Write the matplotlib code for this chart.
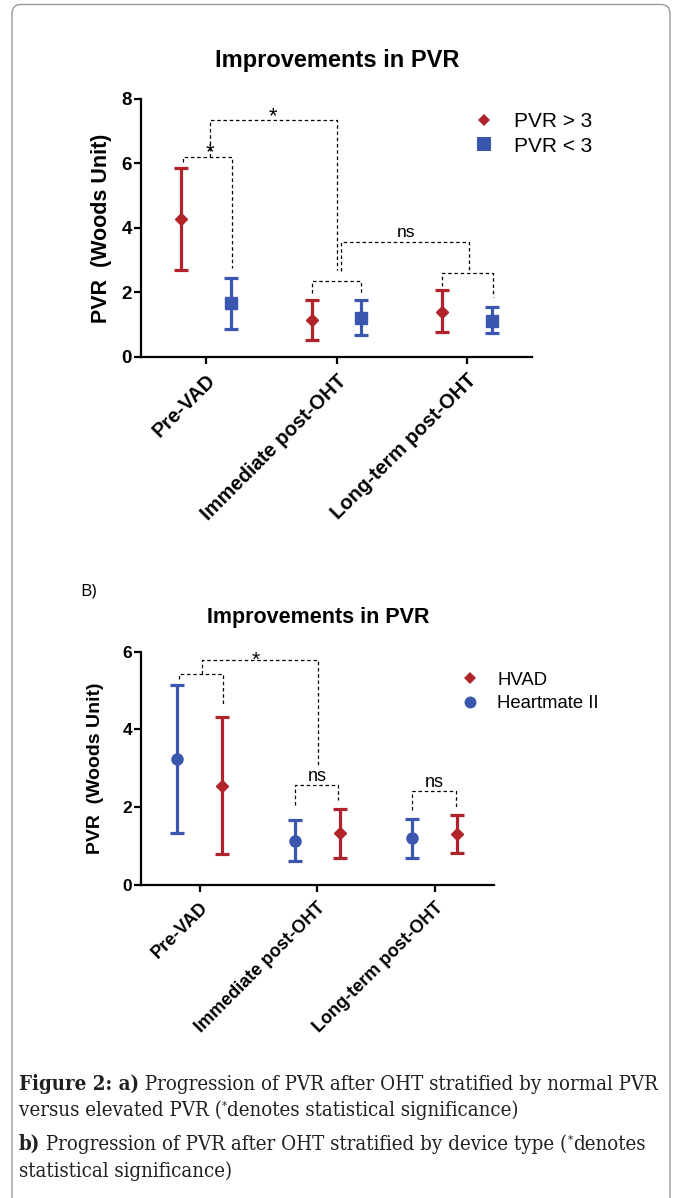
import matplotlib
matplotlib.use("Agg")
import matplotlib.pyplot as plt
import numpy as np
from matplotlib.lines import Line2D
from matplotlib.patches import FancyBboxPatch

plt.rcParams['font.family'] = ['Liberation Sans', 'DejaVu Sans']

categories = ['Pre-VAD', 'Immediate post-OHT', 'Long-term post-OHT']

# panel a: stratified by baseline PVR (mean and error bar ends)
high_mean = [4.28, 1.15, 1.40]
high_upper = [5.86, 1.76, 2.07]
high_lower = [2.71, 0.53, 0.77]
low_mean = [1.66, 1.20, 1.12]
low_upper = [2.45, 1.76, 1.54]
low_lower = [0.88, 0.67, 0.75]

# panel b: stratified by device
hm2_mean = [3.24, 1.13, 1.20]
hm2_upper = [5.14, 1.66, 1.71]
hm2_lower = [1.35, 0.62, 0.70]
hvad_mean = [2.55, 1.33, 1.31]
hvad_upper = [4.32, 1.96, 1.80]
hvad_lower = [0.80, 0.70, 0.83]

# significance brackets: x1, x2, top, left end, right end
brackets_a = [(-0.18, 0.20, 6.20, 6.05, 2.75),
              (0.03, 1.00, 7.35, 6.20, 2.69),
              (0.815, 1.19, 2.35, 1.98, 1.98),
              (1.81, 2.20, 2.62, 2.20, 1.85),
              (1.036, 2.02, 3.58, 2.68, 2.62)]
marks_a = [(0.03, 6.32, '*'), (0.51, 7.45, '*'), (1.53, 3.87, 'ns')]

brackets_b = [(-0.177, 0.196, 5.42, 5.31, 4.60),
              (0.021, 1.005, 5.78, 5.42, 3.04),
              (0.81, 1.18, 2.56, 2.07, 2.19),
              (1.81, 2.185, 2.42, 1.93, 1.97)]
marks_b = [(0.48, 5.77, '*'), (1.0, 2.80, 'ns'), (2.0, 2.63, 'ns')]

RED = '#B0232A'
BLUE = '#3A56AE'
W, H = 675, 1198

fig = plt.figure(figsize=(6.75, 11.98), dpi=100)


def px_axes(left, top, right, bottom):
    return fig.add_axes([left / W, 1 - bottom / H, (right - left) / W, (bottom - top) / H])


def style_axes(ax, ymax, tick_size, xlab_size):
    ax.set_xlim(-0.5, 2.5)
    ax.set_ylim(0, ymax)
    ax.set_yticks(range(0, ymax + 1, 2))
    ax.set_xticks(range(len(categories)))
    ax.set_xticklabels(categories, rotation=45, ha='right', va='top',
                       rotation_mode='anchor', fontsize=xlab_size, fontweight='bold')
    for lab in ax.get_yticklabels():
        lab.set_fontweight('bold')
        lab.set_fontsize(tick_size)
    for s in ['top', 'right']:
        ax.spines[s].set_visible(False)
    for s in ['left', 'bottom']:
        ax.spines[s].set_linewidth(1.6)
    ax.tick_params(axis='both', width=1.6, length=5, direction='out')
    ax.tick_params(axis='y', pad=1.5)
    ax.tick_params(axis='x', pad=5)


def group(ax, xs, mean, lower, upper, marker, color, ms):
    mean = np.array(mean)
    yerr = [mean - np.array(lower), np.array(upper) - mean]
    ax.errorbar(xs, mean, yerr=yerr, fmt=marker, color=color, ms=ms,
                elinewidth=2.3, capsize=4.8, capthick=2.3, zorder=3)


def brackets(ax, specs, marks, star_size, ns_size):
    for x1, x2, top, y1, y2 in specs:
        ax.plot([x1, x1, x2, x2], [y1, top, top, y2], color='black', lw=0.9,
                ls=(0, (2.8, 2.2)), clip_on=False, zorder=2)
    for x, y, t in marks:
        ax.text(x, y, t, ha='center', va='center',
                fontsize=star_size if t == '*' else ns_size)


x = np.arange(len(categories))

# ---- panel a
ax1 = px_axes(141, 99, 532, 357)
group(ax1, x - 0.19, high_mean, high_lower, high_upper, 'D', RED, 6.2)
group(ax1, x + 0.19, low_mean, low_lower, low_upper, 's', BLUE, 9)
brackets(ax1, brackets_a, marks_a, 16, 12.5)
style_axes(ax1, 8, 13.5, 14.5)
ax1.set_ylabel('PVR  (Woods Unit)', fontsize=15.5, fontweight='bold', va='center')
ax1.yaxis.set_label_coords(-0.101, 0.5)
fig.text(337 / W, 1 - 60 / H, 'Improvements in PVR', ha='center', va='center',
         fontsize=17, fontweight='bold')
ax1.legend(handles=[Line2D([], [], ls='none', marker='D', color=RED, ms=6.5, mew=0),
                    Line2D([], [], ls='none', marker='s', color=BLUE, ms=10, mew=0)],
           labels=['PVR > 3', 'PVR < 3'], loc='center left',
           bbox_to_anchor=(474 / W, 1 - 134 / H), bbox_transform=fig.transFigure,
           frameon=False, fontsize=15, handlelength=1.0, handletextpad=0.9,
           labelspacing=0.25, borderpad=0, borderaxespad=0)

# ---- panel b
fig.text(80 / W, 1 - 592 / H, 'B)', ha='left', va='center', fontsize=12.5,
         family=['Open Sans', 'DejaVu Sans'])
ax2 = px_axes(141, 651.7, 493.5, 885)
group(ax2, x - 0.19, hm2_mean, hm2_lower, hm2_upper, 'o', BLUE, 8)
group(ax2, x + 0.19, hvad_mean, hvad_lower, hvad_upper, 'D', RED, 5.8)
brackets(ax2, brackets_b, marks_b, 15, 13)
style_axes(ax2, 6, 12.5, 13)
ax2.set_ylabel('PVR  (Woods Unit)', fontsize=14, fontweight='bold', va='center')
ax2.yaxis.set_label_coords(-0.13, 0.5)
fig.text(318 / W, 1 - 617 / H, 'Improvements in PVR', ha='center', va='center',
         fontsize=15.5, fontweight='bold')
ax2.legend(handles=[Line2D([], [], ls='none', marker='D', color=RED, ms=6, mew=0),
                    Line2D([], [], ls='none', marker='o', color=BLUE, ms=8.6, mew=0)],
           labels=['HVAD', 'Heartmate II'], loc='center left',
           bbox_to_anchor=(461 / W, 1 - 692 / H), bbox_transform=fig.transFigure,
           frameon=False, fontsize=13.3, handlelength=1.0, handletextpad=0.96,
           labelspacing=0.33, borderpad=0, borderaxespad=0)

# ---- caption
CAP = 14.7
renderer = fig.canvas.get_renderer()


def rich_line(x0, base, parts):
    xp = x0
    for text, bold, scale, dy in parts:
        t = fig.text(xp / W, 1 - (base + dy) / H, text, fontsize=CAP * scale,
                     fontweight='bold' if bold else 'normal',
                     family=['DejaVu Serif'], fontstretch='condensed',
                     ha='left', va='baseline', color='#231f20')
        xp = t.get_window_extent(renderer).x1


rich_line(19, 1090, [('Figure 2: a)', True, 1, 0),
                     (' Progression of PVR after OHT stratified by normal PVR', False, 1, 0)])
rich_line(19, 1116, [('versus elevated PVR (', False, 1, 0), ('*', False, 0.55, -7),
                     ('denotes statistical significance)', False, 1, 0)])
rich_line(19, 1150, [('b)', True, 1, 0),
                     (' Progression of PVR after OHT stratified by device type (', False, 1, 0),
                     ('*', False, 0.55, -7), ('denotes', False, 1, 0)])
rich_line(19, 1177, [('statistical significance)', False, 1, 0)])

# page frame
fig.patches.append(FancyBboxPatch((0.12, -0.2), 6.58, 12.135, transform=fig.dpi_scale_trans,
                                  boxstyle='round,pad=0,rounding_size=0.09',
                                  fc='none', ec='#9a9a9a', lw=1.0))

fig.savefig('out.png', dpi=100)
